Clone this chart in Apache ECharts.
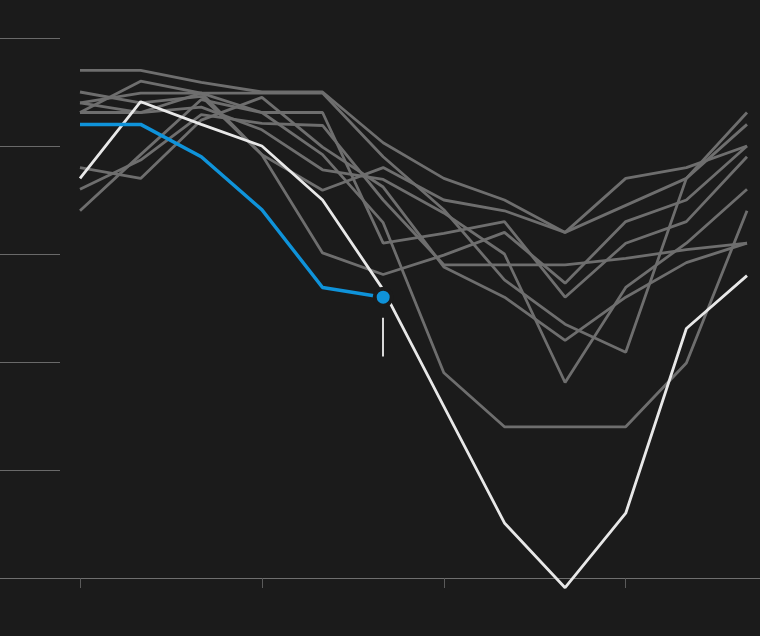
<!DOCTYPE html>
<html>
<head>
<meta charset="utf-8">
<script src="https://cdn.jsdelivr.net/npm/echarts@6/dist/echarts.min.js"></script>
<style>
html,body{margin:0;padding:0;background:#1b1b1b;}
#chart{width:760px;height:636px;}
</style>
</head>
<body>
<div id="chart"></div>
<script>
// Categories (12 points; ticks every third point)
var categories = ['Jan','Feb','Mar','Apr','May','Jun','Jul','Aug','Sep','Oct','Nov','Dec'];
// Y axis ticks (gridlines)
var yTicks = [0, 10, 20, 30, 40, 50];

// Grey comparison series
var grey1 = [47.0, 47.0, 45.9, 45.0, 45.0, 40.3, 37.0, 35.0, 32.0, 37.0, 38.0, 40.0];
var grey2 = [44.0, 44.9, 44.9, 44.9, 44.9, 39.0, 34.1, 27.6, 23.5, 20.9, 37.0, 43.1];
var grey3 = [45.0, 44.0, 44.6, 39.2, 35.9, 38.0, 35.0, 34.0, 32.0, 34.5, 37.0, 42.0];
var grey4 = [34.0, 39.2, 44.3, 43.1, 43.1, 31.0, 31.9, 33.0, 26.0, 31.0, 33.0, 39.0];
var grey5 = [43.1, 46.0, 44.9, 39.2, 30.1, 28.1, 29.9, 32.0, 27.3, 33.0, 35.0, 40.0];
var grey6 = [36.0, 38.7, 42.9, 42.1, 41.9, 35.0, 29.0, 29.0, 29.0, 29.6, 30.4, 31.0];
var grey7 = [38.0, 37.0, 42.4, 44.5, 39.9, 36.2, 28.8, 26.0, 22.0, 26.0, 29.2, 31.0];
var grey8 = [43.1, 43.1, 44.9, 43.1, 39.2, 32.9, 19.0, 14.0, 14.0, 14.0, 19.9, 34.0];
var grey9 = [44.0, 43.1, 43.6, 41.5, 37.8, 36.9, 33.8, 30.0, 18.1, 26.9, 31.0, 36.0];
// Highlighted white series
var whiteSeries = [37.0, 44.1, 42.0, 40.0, 35.0, 26.7, 15.9, 5.1, -0.9, 6.0, 23.1, 28.0];
// Current (blue) series, partial year
var blueSeries = [42.0, 42.0, 39.0, 34.1, 26.9, 26.0];
// Annotation pointer below the latest point (value range)
var pointerRange = [24.1, 20.5];

var greys = [grey1, grey2, grey3, grey4, grey5, grey6, grey7, grey8, grey9];

var BG = '#1b1b1b';
var BLUE = '#0f93da';
var series = [];
greys.forEach(function (g) {
  series.push({
    type: 'line', xAxisIndex: 0, yAxisIndex: 0, data: g,
    symbol: 'none', clip: false, silent: true,
    lineStyle: { color: '#6e6e6e', width: 2.8 }
  });
});
series.push({
  type: 'line', xAxisIndex: 0, yAxisIndex: 0, data: whiteSeries,
  symbol: 'none', clip: false, silent: true, z: 3,
  lineStyle: { color: '#e8e8e8', width: 2.8 }
});
series.push({
  type: 'line', xAxisIndex: 0, yAxisIndex: 0, data: blueSeries,
  symbol: 'none', clip: false, silent: true, z: 4,
  lineStyle: { color: BLUE, width: 3.5 }
});
var lastIdx = blueSeries.length - 1;
series.push({
  type: 'scatter', xAxisIndex: 0, yAxisIndex: 0,
  data: [[lastIdx, blueSeries[lastIdx]]],
  symbol: 'circle', symbolSize: 17, clip: false, silent: true, z: 5,
  itemStyle: { color: BLUE, borderColor: BG, borderWidth: 4, opacity: 1 },
  markLine: {
    silent: true, symbol: 'none', animation: false,
    label: { show: false },
    lineStyle: { color: '#d8d8d8', width: 2, type: 'solid', opacity: 1 },
    data: [[{ coord: [lastIdx, pointerRange[0]] }, { coord: [lastIdx, pointerRange[1]] }]]
  }
});

var chart = echarts.init(document.getElementById('chart'), null, { renderer: 'canvas' });
chart.setOption({
  backgroundColor: BG,
  animation: false,
  grid: [
    { left: 80, right: 13, top: 38, bottom: 58 },
    { left: 0, width: 60, top: 38, bottom: 58 },
    { left: 0, right: 0, top: 38, bottom: 58 }
  ],
  xAxis: [
    {
      gridIndex: 0, type: 'category', data: categories, boundaryGap: false,
      axisLine: { show: false },
      axisTick: {
        show: true, length: 10, inside: false,
        interval: function (i) { return i % 3 === 0; },
        lineStyle: { color: '#5a5a5a', width: 1 }
      },
      axisLabel: { show: false },
      splitLine: { show: false }
    },
    {
      gridIndex: 1, type: 'value', min: 0, max: 1, show: false
    },
    {
      gridIndex: 2, type: 'category', data: [''], boundaryGap: false,
      axisLine: { show: true, lineStyle: { color: '#6f6f6f', width: 1 } },
      axisTick: { show: false },
      axisLabel: { show: false },
      splitLine: { show: false }
    }
  ],
  yAxis: [
    {
      gridIndex: 0, type: 'value', min: yTicks[0], max: yTicks[yTicks.length - 1], interval: 10,
      show: false
    },
    {
      gridIndex: 1, type: 'value', min: yTicks[0], max: yTicks[yTicks.length - 1], interval: 10,
      axisLine: { show: false }, axisTick: { show: false }, axisLabel: { show: false },
      splitLine: { show: true, lineStyle: { color: '#6a6a6a', width: 1 } }
    },
    {
      gridIndex: 2, type: 'value', min: yTicks[0], max: yTicks[yTicks.length - 1], interval: 10,
      show: false
    }
  ],
  series: series
});
</script>
</body>
</html>
